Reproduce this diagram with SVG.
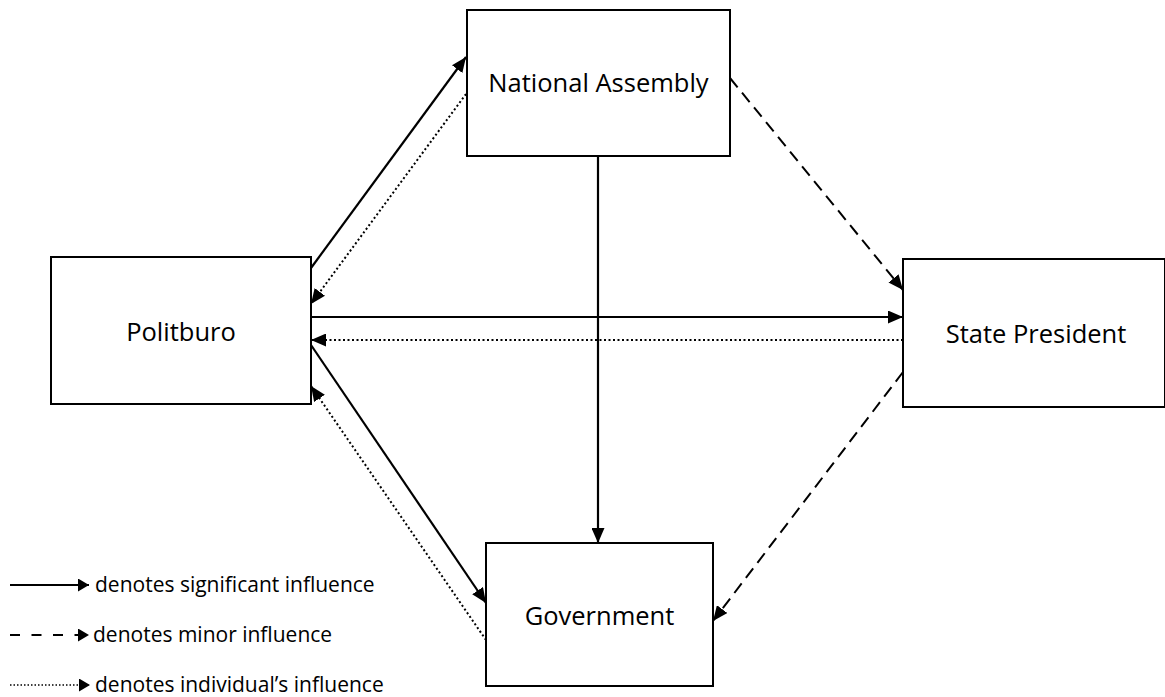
<svg xmlns="http://www.w3.org/2000/svg" width="1165" height="697" viewBox="0 0 1165 697">
<defs>
<style>
.box{fill:#fff;stroke:#000;stroke-width:2}
.lbl{font-family:"Open Sans","Noto Sans",sans-serif;font-size:25.5px;fill:#000;text-anchor:middle}
.leg{font-family:"Open Sans","Noto Sans",sans-serif;font-size:21px;fill:#000}
.solid{stroke:#000;stroke-width:2.2;fill:none;marker-end:url(#ah)}
.dash{stroke:#000;stroke-width:2;fill:none;stroke-dasharray:12 7;marker-end:url(#ah)}
.dot{stroke:#000;stroke-width:2;fill:none;stroke-dasharray:2 2.5;marker-end:url(#ah)}
.lg{stroke:#000;fill:none;marker-end:url(#lah)}
</style>
<marker id="ah" markerUnits="userSpaceOnUse" markerWidth="15" markerHeight="13" refX="15" refY="6.5" orient="auto">
<path d="M0,0 L15,6.5 L0,13 z" fill="#000" stroke="none"/>
</marker>
<marker id="lah" markerUnits="userSpaceOnUse" markerWidth="11" markerHeight="13" refX="11" refY="6.5" orient="auto">
<path d="M0,0 L11,6.5 L0,13 z" fill="#000" stroke="none"/>
</marker>
</defs>
<g id="connectors">
<line class="solid" x1="311" y1="268" x2="466" y2="57"/>
<line class="dot" x1="466" y1="94" x2="311" y2="304"/>
<line class="solid" x1="311" y1="317" x2="903" y2="317"/>
<line class="dot" x1="903" y1="340" x2="311" y2="340"/>
<line class="solid" x1="311" y1="345" x2="486" y2="603"/>
<line class="dot" x1="486" y1="640" x2="311" y2="386"/>
<line class="solid" x1="598" y1="156" x2="598" y2="543"/>
<line class="dash" x1="730" y1="78" x2="903" y2="290"/>
<line class="dash" x1="903" y1="372" x2="713" y2="621"/>
</g>
<g id="national-assembly">
<rect class="box" x="467" y="10" width="263" height="146"/>
<text class="lbl" x="598.5" y="92">National Assembly</text>
</g>
<g id="politburo">
<rect class="box" x="51" y="257" width="260" height="147"/>
<text class="lbl" x="181" y="341">Politburo</text>
</g>
<g id="state-president">
<rect class="box" x="903" y="259" width="262" height="148"/>
<text class="lbl" x="1036" y="343">State President</text>
</g>
<g id="government">
<rect class="box" x="486" y="543" width="227" height="143"/>
<text class="lbl" x="599.5" y="625">Government</text>
</g>
<g id="legend">
<line class="lg" x1="10" y1="585" x2="89" y2="585" style="stroke-width:2.2"/>
<text class="leg" x="95" y="592">denotes significant influence</text>
<line class="lg" x1="10" y1="635" x2="89" y2="635" style="stroke-width:2.2;stroke-dasharray:10 11.5"/>
<text class="leg" x="93" y="642">denotes minor influence</text>
<line class="lg" x1="10" y1="685" x2="90" y2="685" style="stroke-width:1.5;stroke-dasharray:1.5 2"/>
<text class="leg" x="95" y="692">denotes individual’s influence</text>
</g>
</svg>
